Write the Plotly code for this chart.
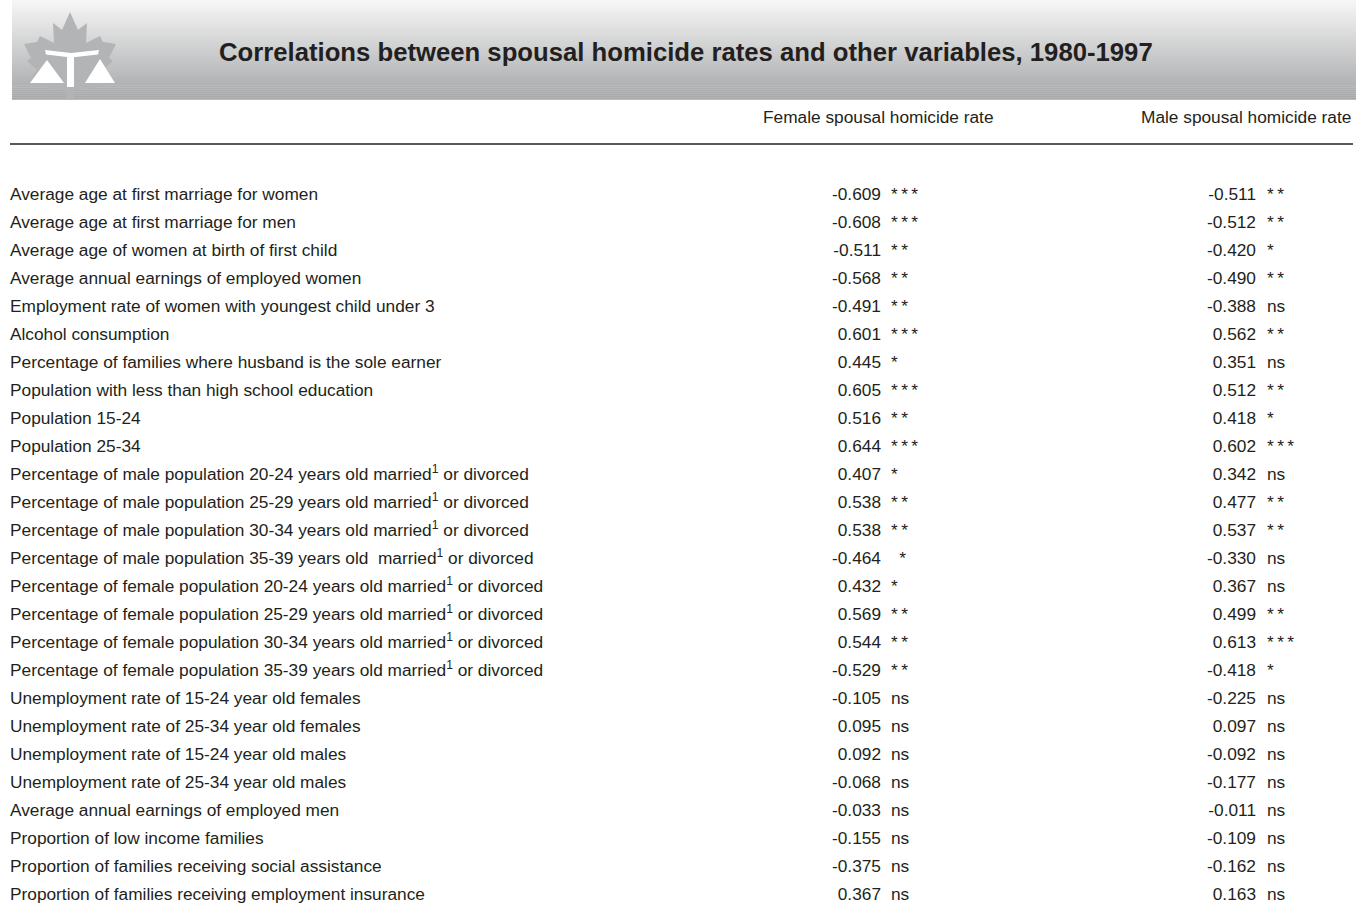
import plotly.graph_objects as go

W, H = 1356, 913

title = "Correlations between spousal homicide rates and other variables, 1980-1997"
col_headers = ["Female spousal homicide rate", "Male spousal homicide rate"]

labels = [
    "Average age at first marriage for women",
    "Average age at first marriage for men",
    "Average age of women at birth of first child",
    "Average annual earnings of employed women",
    "Employment rate of women with youngest child under 3",
    "Alcohol consumption",
    "Percentage of families where husband is the sole earner",
    "Population with less than high school education",
    "Population 15-24",
    "Population 25-34",
    "Percentage of male population 20-24 years old married<sup>1</sup> or divorced",
    "Percentage of male population 25-29 years old married<sup>1</sup> or divorced",
    "Percentage of male population 30-34 years old married<sup>1</sup> or divorced",
    "Percentage of male population 35-39 years old  married<sup>1</sup> or divorced",
    "Percentage of female population 20-24 years old married<sup>1</sup> or divorced",
    "Percentage of female population 25-29 years old married<sup>1</sup> or divorced",
    "Percentage of female population 30-34 years old married<sup>1</sup> or divorced",
    "Percentage of female population 35-39 years old married<sup>1</sup> or divorced",
    "Unemployment rate of 15-24 year old females",
    "Unemployment rate of 25-34 year old females",
    "Unemployment rate of 15-24 year old males",
    "Unemployment rate of 25-34 year old males",
    "Average annual earnings of employed men",
    "Proportion of low income families",
    "Proportion of families receiving social assistance",
    "Proportion of families receiving employment insurance",
]

female_r = [-0.609, -0.608, -0.511, -0.568, -0.491, 0.601, 0.445, 0.605, 0.516, 0.644,
            0.407, 0.538, 0.538, -0.464, 0.432, 0.569, 0.544, -0.529, -0.105, 0.095,
            0.092, -0.068, -0.033, -0.155, -0.375, 0.367]
female_sig = ["***", "***", "**", "**", "**", "***", "*", "***", "**", "***",
              "*", "**", "**", "\u00a0*", "*", "**", "**", "**", "ns", "ns",
              "ns", "ns", "ns", "ns", "ns", "ns"]
male_r = [-0.511, -0.512, -0.420, -0.490, -0.388, 0.562, 0.351, 0.512, 0.418, 0.602,
          0.342, 0.477, 0.537, -0.330, 0.367, 0.499, 0.613, -0.418, -0.225, 0.097,
          -0.092, -0.177, -0.011, -0.109, -0.162, 0.163]
male_sig = ["**", "**", "*", "**", "ns", "**", "ns", "**", "*", "***",
            "ns", "**", "**", "ns", "ns", "**", "***", "*", "ns", "ns",
            "ns", "ns", "ns", "ns", "ns", "ns"]

FONT = "Liberation Sans, Arial, Helvetica, sans-serif"
TXT = "#231f20"
FS = 17.3

# row geometry (pixels)
ROW0, PITCH = 196, 28
rows = list(range(len(labels)))


def sig_fmt(s):
    if s == "ns":
        return s
    return "\u2009".join(list(s))


def px(x):
    return x / W


def py(y):
    return 1 - y / H


fig = go.Figure()


def add_text(x, texts, pos):
    fig.add_trace(go.Scatter(
        x=[x] * len(texts), y=rows, text=texts, mode="text",
        textposition=pos, hoverinfo="skip", showlegend=False,
        textfont=dict(family=FONT, size=FS, color=TXT),
    ))


add_text(10, labels, "middle right")
add_text(881, [f"{v:.3f}" for v in female_r], "middle left")
add_text(891, [sig_fmt(s) for s in female_sig], "middle right")
add_text(1256, [f"{v:.3f}" for v in male_r], "middle left")
add_text(1267, [sig_fmt(s) for s in male_sig], "middle right")

shapes = []
# banner gradient
n = 50
top_c, bot_c = (246, 246, 246), (166, 167, 169)
bh = 99.5
for i in range(n):
    t = i / (n - 1)
    c = tuple(int(round(top_c[k] + (bot_c[k] - top_c[k]) * t)) for k in range(3))
    shapes.append(dict(type="rect", xref="paper", yref="paper",
                       x0=px(12), x1=1.0, y0=py(bh * (i + 1) / n + 0.3), y1=py(bh * i / n),
                       fillcolor="rgb(%d,%d,%d)" % c, line=dict(width=0), layer="below"))


def path(pts):
    return "M " + " L ".join(f"{px(x):.5f},{py(y):.5f}" for x, y in pts) + " Z"


right = [(70, 12), (78, 30), (87, 23), (86, 43), (100, 36), (103, 42), (116, 44),
         (109, 58), (113, 61), (103, 70), (112, 84), (92, 88), (74, 91), (74, 99.5)]
left = [(140 - x, y) for x, y in reversed(right[1:])]
leaf = right + left
shapes.append(dict(type="path", xref="paper", yref="paper", path=path(leaf),
                   fillcolor="#b3b4b6", line=dict(width=0), layer="below"))
white = [
    [(45, 50), (71, 53), (99, 50), (98, 54.5), (71, 57.5), (46, 54.5)],
    [(67, 57), (74, 57), (74, 87), (67, 87)],
    [(47, 60), (64, 83), (30, 83)],
    [(100, 59), (115, 83), (85, 83)],
]
for w in white:
    shapes.append(dict(type="path", xref="paper", yref="paper", path=path(w),
                       fillcolor="white", line=dict(width=0), layer="below"))

# rule under headers
shapes.append(dict(type="line", xref="paper", yref="paper", x0=px(10), x1=px(1353),
                   y0=py(144), y1=py(144), line=dict(color="#222", width=1.5)))

annotations = [
    dict(text="<b>%s</b>" % title, xref="paper", yref="paper", x=px(217), y=py(52),
         xanchor="left", yanchor="middle", showarrow=False,
         font=dict(family="Liberation Sans, Arial, sans-serif", size=25.7, color="#231f20")),
    dict(text=col_headers[0], xref="paper", yref="paper", x=px(878.5), y=py(117),
         xanchor="center", yanchor="middle", showarrow=False,
         font=dict(family=FONT, size=FS, color=TXT)),
    dict(text=col_headers[1], xref="paper", yref="paper", x=px(1353), y=py(117),
         xanchor="right", yanchor="middle", showarrow=False,
         font=dict(family=FONT, size=FS, color=TXT)),
]

fig.update_layout(
    width=W, height=H, margin=dict(l=0, r=0, t=0, b=0),
    paper_bgcolor="white", plot_bgcolor="white",
    xaxis=dict(range=[0, W], visible=False, fixedrange=True),
    yaxis=dict(range=[(H - ROW0) / PITCH, -ROW0 / PITCH], visible=False, fixedrange=True),
    shapes=shapes, annotations=annotations, showlegend=False,
)

fig.write_html("out.html", config={"displayModeBar": False},
               post_script="document.body.style.margin='0';document.body.style.overflow='hidden';")
